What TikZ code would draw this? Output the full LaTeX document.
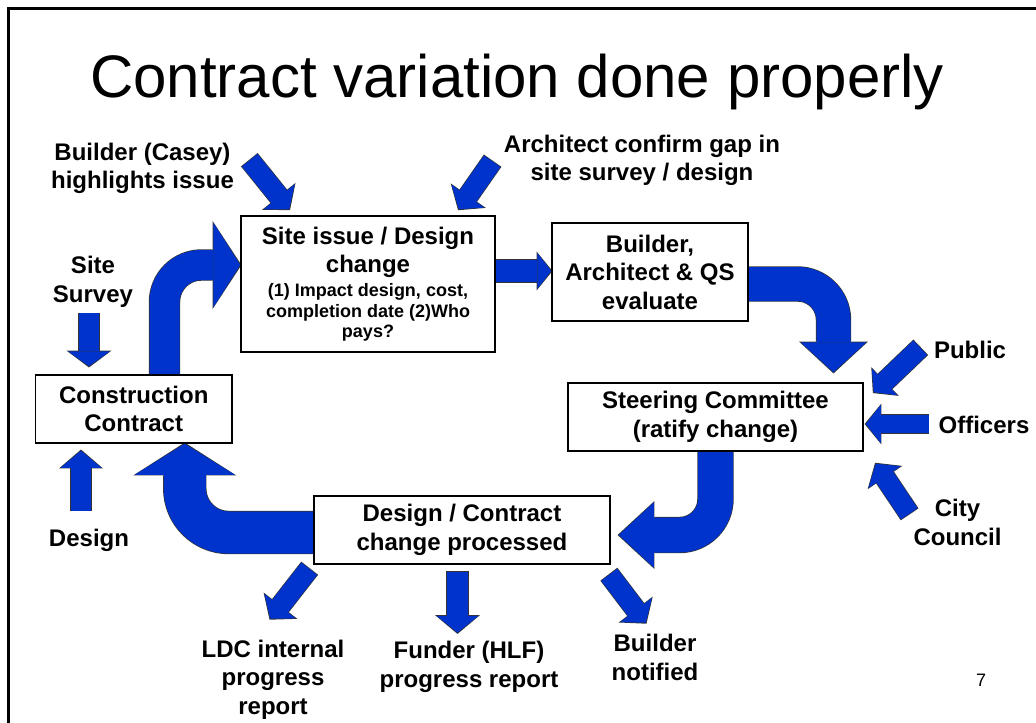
\documentclass[tikz,border=0pt]{standalone}
\usepackage{fontspec}
\setmainfont{Liberation Sans}
\usepackage{tikz}
\usetikzlibrary{calc}
\usetikzlibrary{arrows.meta,backgrounds}

\definecolor{flowblue}{RGB}{0,51,204}
\newcommand{\boxfont}{\bfseries\fontsize{24bp}{28.5bp}\selectfont}
\newcommand{\notefont}{\fontsize{18bp}{20.5bp}\selectfont}

\tikzset{
  stage/.style={draw, line width=1.5bp, fill=white, align=center, inner sep=0pt, font=\boxfont},
  party/.style={align=center, inner sep=0pt, anchor=base, font=\boxfont},
  feed/.style n args={3}{draw=flowblue, line width=#1, -{Triangle[width=#2,length=#3,line width=0pt]},
    preaction={draw=black!80, line width=#1+1.4bp, shorten <=-0.7bp, shorten >=-1.2bp,
      -{Triangle[width=#2+2.8bp,length=#3+1.8bp,line width=0pt]}}},
  bend/.style n args={4}{feed={#1}{#2}{#3}, rounded corners=#4},
}

\begin{document}
\begin{tikzpicture}[x=1bp,y=-1bp]
  \useasboundingbox (0,0) rectangle (1036,723);
  \draw[line width=3bp] (8.5,723) -- (8.5,8.5) -- (1036,8.5);
  \node[anchor=base, font=\fontsize{60bp}{72bp}\selectfont] (title) at (517,98) {Contract variation done properly};

  \node[stage, minimum width=254bp, minimum height=136bp] (issue) at (368,284)
    {Site issue / Design\\change\\[-4.5bp]\notefont (1) Impact design, cost,\\[-8bp]\notefont completion date (2)Who\\[-8bp]\notefont pays?};
  \node[stage, minimum width=196bp, minimum height=98bp] (evaluate) at (650,272) {Builder,\\Architect \& QS\\evaluate};
  \node[stage, minimum width=295bp, minimum height=68bp] (steering) at (715.5,417) {Steering Committee\\(ratify change)};
  \node[stage, minimum width=296bp, minimum height=68bp] (processed) at (462,530) {Design / Contract\\change processed};
  \node[stage, minimum width=196bp, minimum height=68bp] (contract) at (133.75,409) {Construction\\Contract};

  \node[party] (casey) at (142.5,189) {Builder (Casey)\\highlights issue};
  \node[party] (architect) at (642,181) {Architect confirm gap in\\site survey / design};
  \node[party] (survey) at (93,302) {Site\\Survey};
  \node[party] (design) at (89,546) {Design};
  \node[party] (public) at (970,358) {Public};
  \node[party] (officers) at (984,433) {Officers};
  \node[party] (council) at (957.5,545) {City\\Council};
  \node[party] (ldc) at (273,714) {LDC internal\\progress\\report};
  \node[party] (funder) at (469,687) {Funder (HLF)\\progress report};
  \node[party] (notified) at (655,680) {Builder\\notified};
  \node[anchor=base, font=\fontsize{18bp}{20bp}\selectfont] (page) at (981,686) {7};

  \begin{scope}[on background layer]
    \draw[feed={20bp}{42bp}{15bp}] ($(contract.north)+(-44.75,-61)$) -- ($(contract.north)+(-44.75,-8)$);
    \draw[feed={20bp}{41bp}{17bp}] ($(contract.south)+(-52.75,67)$) -- ($(contract.south)+(-52.75,7)$);
    \draw[feed={20bp}{40bp}{16bp}] ($(issue.north west)+(9.5,-55)$) -- ($(issue.north west)+(49,-6)$);
    \draw[feed={20bp}{40bp}{16bp}] ($(issue.north east)+(-3.5,-54)$) -- ($(issue.north east)+(-37,-6)$);
    \draw[feed={22bp}{36bp}{14bp}] ($(issue.east)+(0,-13)$) -- ($(evaluate.west)+(0,-1)$);
    \draw[feed={20bp}{37bp}{15bp}] ($(steering.north east)+(56.5,-34.5)$) -- ($(steering.north east)+(10,10)$);
    \draw[feed={18bp}{38bp}{15bp}] ($(steering.east)+(65,7)$) -- ($(steering.east)+(2,7)$);
    \draw[feed={20bp}{39bp}{16bp}] ($(steering.south east)+(45.5,62)$) -- ($(steering.south east)+(12,12)$);
    \draw[feed={20bp}{40bp}{16bp}] ($(processed.south west)+(-4,4)$) -- ($(processed.south west)+(-43,54)$);
    \draw[feed={21bp}{42bp}{17bp}] ($(processed.south)+(-4.5,7)$) -- ($(processed.south)+(-4.5,68)$);
    \draw[feed={20bp}{40bp}{16bp}] ($(processed.south east)+(-1.5,10)$) -- ($(processed.south east)+(35,58)$);

    \draw[bend={30bp}{85bp}{27bp}{37bp}] ($(contract.north)+(30.75,0)$) |- ($(issue.west)+(0,-19)$);
    \draw[bend={34bp}{66bp}{30bp}{36bp}] ($(evaluate.east)+(0,12)$) -| ($(steering.north)+(118,-10)$);
    \draw[bend={35bp}{65bp}{35bp}{36bp}] (steering.south) |- ($(processed.east)+(8,5)$);
    \draw[bend={42bp}{100bp}{31bp}{44bp}] ($(processed.west)+(0,2.5)$) -| ($(contract.south)+(51,0)$);
  \end{scope}
\end{tikzpicture}
\end{document}
